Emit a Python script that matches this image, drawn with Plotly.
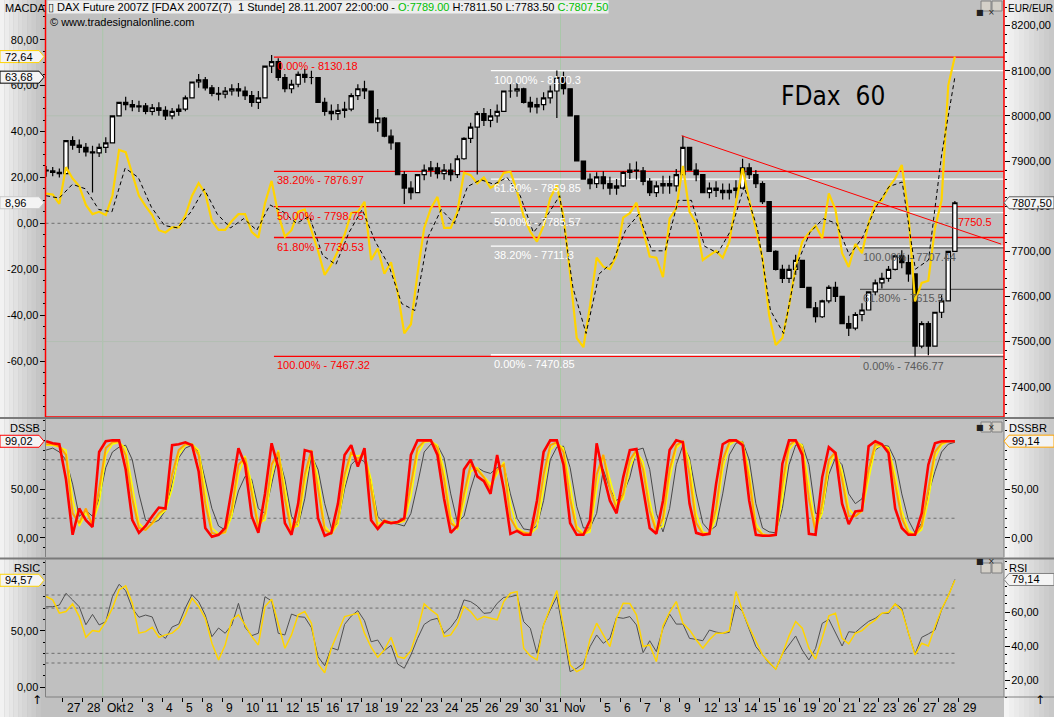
import numpy as np
import plotly.graph_objects as go

W, H = 1054, 717
FONT = 'Liberation Sans, Arial, sans-serif'

# FDAX 60 min at three points per trading day
day_labels = ['27', '28', 'Okt', '2', '3', '4', '5', '8', '9', '10', '11', '12',
              '15', '16', '17', '18', '19', '22', '23', '24', '25', '26', '29',
              '30', '31', 'Nov', '', '5', '6', '7', '8', '9', '12', '13', '14',
              '15', '16', '19', '20', '21', '22', '23', '26', '27', '28', '29']
first_day = -0.85   # afternoon of 26.09.
per_day = 3
first_open = 7880

close = [7878, 7875, 7872, 7945, 7935, 7930, 7920, 7918, 7930, 7940,
         8000, 8030, 8025, 8020, 8022, 8010, 8018, 8012, 8000, 8010,
         8015, 8040, 8075, 8080, 8062, 8050, 8048, 8055, 8060, 8055,
         8045, 8030, 8040, 8110, 8120, 8085, 8060, 8070, 8092, 8085,
         8085, 8030, 8010, 8005, 8012, 8015, 8045, 8060, 8055, 7985,
         7995, 7955, 7940, 7870, 7840, 7830, 7870, 7880, 7885, 7872,
         7880, 7870, 7905, 7950, 7975, 8005, 7990, 8000, 8010, 8055,
         8055, 8060, 8030, 8020, 8025, 8040, 8055, 8085, 8060, 8000,
         7900, 7860, 7850, 7865, 7850, 7840, 7845, 7875, 7880, 7878,
         7855, 7830, 7845, 7850, 7845, 7870, 7930, 7880, 7870, 7830,
         7840, 7835, 7830, 7835, 7840, 7885, 7870, 7850, 7810, 7700,
         7660, 7640, 7660, 7680, 7620, 7575, 7555, 7590, 7620, 7600,
         7540, 7530, 7560, 7570, 7610, 7630, 7640, 7660, 7690, 7675,
         7650, 7490, 7540, 7490, 7565, 7590, 7700, 7807.5]
# height of the hourly bar cluster around each point (index points)
bar_range = [20, 20, 20, 35, 30, 30, 30, 30, 30,
             35, 50, 30, 30, 25, 25, 25, 25, 30, 30, 25, 25,
             35, 35, 30, 30, 25, 30, 25, 25, 30, 30, 35, 40,
             40, 40, 50, 40, 30, 35, 30, 30, 40, 40, 35, 35,
             35, 40, 35, 40, 50, 50, 45, 45, 50, 45, 40, 40,
             35, 35, 35, 35, 40, 50, 50, 45, 40, 40, 40, 40,
             35, 30, 30, 35, 35, 35, 40, 40, 45, 50, 60, 50,
             40, 35, 35, 40, 40, 35, 35, 35, 40, 40, 40, 35,
             40, 40, 50, 45, 40, 40, 35, 35, 35, 35, 35, 40,
             40, 35, 40, 50, 60, 45, 40, 40, 45, 50, 45, 45,
             40, 40, 45, 50, 45, 40, 40, 40, 35, 35, 35, 35,
             40, 60, 70, 60, 60, 50, 50, 60, 30]
spike_high = {23: 8090, 34: 8130.18, 77: 8100.3, 96: 7956, 105: 7905, 137: 7811.5}
spike_low = {0: 7865, 7: 7830, 54: 7805, 65: 7870, 77: 7995, 131: 7466.77, 133: 7470}

macd = [13, 12.5, 8.5, 24.5, 19.5, 16.2, 8, 4, 5, 3.6,
        12, 32, 31, 21, 12, 7.5, 3.6, -3, -4, -1.8,
        -1.8, 3.5, 12, 17.5, 13, 1, -2.9, -2.9, 1, 4,
        4, -3.7, -6.3, 8.7, 18.5, 4, -5.8, -3, 5, 6,
        -3, -12, -22.5, -18, -12, -5, 4.5, 5, 9.4, -16,
        -11, -22, -17, -30, -47.9, -44, -21.8, -2, 6.5, 11.5,
        -2, -2, 5, 22, 21, 17.4, 20, 15.5, 17, 22,
        22.5, 14, 3, -3.7, -8, -1, 11, 16.5, 3, -22,
        -50, -54, -36, -15, -18.9, -20, -14, 2.5, 4.4, 9,
        -3, -14.5, -15, -23.5, 2, 6.5, 25, 5, 0, -16,
        -14, -12, -15, -8, 9, 24, 10, -2.5, -15, -40,
        -53, -50, -36, -19, -8, -4.2, -1, -6.5, 13, 6,
        -13, -19, -9, -13, 0, 8.5, 10, 15.5, 19.5, 25.4,
        4, -34, -26, -25, -2, 10, 60, 72.64]
macd_signal = [12, 11, 17, 15, 6, 5, 24, 20, 7, -1,
               -2, 5, 15, 4, -2, 2, -3, 8, 5, 0,
               3, -14, -18, -4, 6, -8, -18, -35, -38, -6,
               6, 0, 16, 19, 17, 20, 12, -4, 3, 12,
               -28, -48, -22, -17, -3, 4, -12, -12, 10, 10,
               -10, -13, -3, 16, -2, -38, -48, -18, -4, 2,
               0, -14, -6, 7, 16, 18, -20, -16, 30, 63.68]
macd_hist_last = 8.96

dss_red = [99, 97, 96, 60, 3, 30, 18, 11, 88, 99,
           100, 100, 70, 18, 5, 12, 22, 31, 30, 95,
           96, 98, 95, 68, 10, 1, 3, 10, 50, 92,
           75, 22, 5, 45, 97, 72, 15, 3, 35, 90,
           88, 20, 2, 5, 35, 85, 95, 73, 92, 18,
           9, 17, 15, 16, 20, 85, 100, 100, 100, 85,
           40, 5, 12, 70, 80, 63, 58, 45, 85, 50,
           4, 7, 3, 3, 38, 88, 100, 100, 75, 15,
           3, 3, 18, 97, 65, 38, 25, 62, 90, 91,
           50, 10, 4, 38, 90, 100, 98, 35, 5, 3,
           4, 55, 96, 100, 100, 95, 38, 3, 2, 2,
           3, 76, 100, 100, 85, 4, 3, 62, 93, 87,
           35, 14, 27, 28, 94, 99, 96, 87, 30, 10,
           3, 3, 25, 75, 97, 99, 99, 99.02]
dss_orange = [96, 96, 94, 85, 25, 15, 30, 12, 50, 92,
              98, 99, 85, 40, 10, 8, 15, 25, 30, 65,
              90, 96, 96, 85, 35, 5, 3, 6, 30, 75,
              82, 45, 10, 25, 75, 88, 40, 6, 18, 65,
              90, 50, 8, 4, 20, 65, 88, 80, 88, 50,
              10, 18, 15, 16, 18, 55, 92, 99, 100, 92,
              60, 15, 10, 45, 75, 70, 62, 50, 70, 75,
              20, 8, 5, 4, 20, 65, 95, 98, 88, 40,
              8, 3, 10, 65, 85, 50, 30, 45, 80, 90,
              70, 28, 6, 20, 70, 95, 99, 65, 15, 4,
              4, 30, 80, 98, 100, 97, 60, 10, 3, 2,
              3, 55, 95, 100, 92, 40, 6, 35, 80, 88,
              60, 22, 22, 28, 70, 96, 95, 90, 55, 20,
              5, 3, 12, 50, 88, 97, 99, 99.14]
dss_yellow = [95, 95, 93, 90, 40, 12, 25, 15, 35, 85,
              96, 98, 92, 55, 15, 8, 14, 22, 28, 50,
              85, 95, 96, 90, 50, 10, 4, 5, 22, 65,
              84, 55, 15, 18, 62, 90, 52, 10, 12, 55,
              88, 62, 12, 4, 14, 55, 85, 84, 86, 60,
              15, 15, 16, 15, 17, 42, 85, 98, 99, 95,
              70, 22, 8, 35, 68, 72, 63, 55, 65, 78,
              35, 10, 6, 4, 10, 50, 90, 97, 92, 55,
              12, 4, 6, 50, 85, 60, 35, 40, 72, 88,
              78, 38, 8, 12, 60, 92, 99, 78, 25, 6,
              4, 20, 70, 95, 100, 98, 68, 15, 4, 2,
              3, 40, 90, 99, 95, 55, 10, 25, 72, 88,
              68, 30, 22, 27, 60, 92, 95, 92, 65, 28,
              8, 3, 8, 38, 82, 95, 99, 99]
dss_slow = [90, 92, 88, 80, 55, 22, 28, 22, 40, 72,
            88, 93, 95, 80, 45, 18, 15, 18, 28, 55,
            82, 92, 95, 88, 60, 30, 12, 8, 22, 48,
            63, 60, 30, 25, 55, 85, 60, 22, 12, 40,
            85, 70, 35, 10, 15, 50, 75, 82, 78, 58,
            22, 15, 15, 14, 12, 25, 55, 88, 96, 95,
            82, 45, 16, 22, 50, 72, 68, 66, 72, 75,
            45, 20, 9, 8, 12, 38, 80, 93, 94, 72,
            32, 10, 10, 25, 70, 50, 38, 45, 62, 90,
            92, 70, 25, 6, 30, 75, 95, 82, 45, 15,
            7, 12, 45, 85, 97, 99, 80, 35, 10, 6,
            5, 30, 75, 95, 96, 75, 25, 25, 65, 82,
            75, 45, 35, 40, 70, 90, 95, 94, 80, 45,
            18, 5, 15, 45, 68, 88, 96, 98]

rsic = [80.2, 77.3, 65.5, 66.9, 73.7, 62.5, 44.2, 50.1, 49.2, 58.1,
        69.9, 86.1, 89.6, 74.3, 47.8, 49.2, 53.1, 44.2, 46.3, 47.8,
        52.8, 64, 78.7, 71.4, 61, 38.9, 24.2, 37.4, 59.6, 64,
        55.1, 44.8, 37.4, 71.4, 77.8, 55.1, 34.5, 46.3, 64, 66.9,
        56.6, 20.6, 12.9, 34.5, 47.8, 62.5, 64, 65.5, 47.8, 35.4,
        26.5, 33, 44.2, 27.1, 25.6, 32.4, 50.7, 73.7, 68.4, 64,
        44.8, 46.3, 55.1, 71.4, 66.9, 59.6, 62.5, 61, 59.6, 75.8,
        83.2, 84.6, 34.5, 27.7, 24.2, 55.1, 69.9, 85.5, 53.7, 19.7,
        13.8, 16.8, 42.5, 56.6, 46.3, 36, 61, 74.3, 74, 64,
        36, 37.4, 22.7, 54.3, 66.3, 75.8, 56.6, 50.7, 42, 34.5,
        42, 47.8, 47.8, 49.8, 84.6, 66.9, 53.1, 40.4, 28.6, 22.1,
        15.9, 29.5, 45.4, 58.1, 52.2, 34.5, 25, 43.3, 63.1, 65.5,
        43.3, 38.3, 47.8, 50.1, 55.4, 59.3, 65.5, 66.3, 73.7, 67.8,
        47.8, 28.6, 38.9, 36.5, 53.7, 69, 80.8, 94.57]
rsi = [63.1, 63.1, 64.1, 71, 67.1, 63.1, 52.5, 58.6, 52.4, 54.3,
       69, 76.3, 72.5, 62.2, 56.9, 58.2, 57.1, 47.5, 44.5, 51.2,
       52.9, 62.4, 70.2, 66.1, 58.2, 45.5, 50.6, 47.5, 52.4, 65.1,
       51, 46.1, 47.5, 69, 66.5, 47.5, 46.5, 58.8, 57.3, 56.9,
       50.8, 33.7, 28.4, 39, 37.6, 52.7, 57.6, 60.8, 54.9, 42.5,
       43.5, 37.3, 40.4, 29.4, 26.9, 34.7, 44.5, 52.7, 55.3, 56.3,
       47.5, 51, 56.3, 67.1, 66.1, 63.5, 59.2, 59.6, 65.1, 68.6,
       69, 70, 54.3, 50.4, 35.7, 52.4, 61.2, 69, 47.5, 24.9,
       26.9, 29.8, 39.6, 46.5, 41.6, 44.5, 56.9, 56.3, 57.3, 52.4,
       36.1, 43.1, 36.7, 50.4, 58.8, 52.9, 52.9, 44.5, 43.9, 43.1,
       49.4, 48.2, 47.5, 48, 64.1, 60.2, 49.8, 39.6, 34.9, 29.8,
       26.3, 35.3, 40.6, 45.9, 37.6, 31.8, 38.6, 53.3, 55.7, 47.5,
       40, 48.4, 48, 51.4, 54.5, 56.3, 59.2, 59.2, 64.9, 62.2,
       47.5, 35.3, 45.1, 47.1, 49.4, 61.2, 69.4, 79.14]

# fibonacci retracements and trendline drawn on the chart
fib_red = [('0.00%', 8130.18), ('38.20%', 7876.97), ('50.00%', 7798.75),
           ('61.80%', 7730.53), ('100.00%', 7467.32)]
fib_white = [('100.00%', 8100.3), ('61.80%', 7859.85), ('50.00%', 7785.57),
             ('38.20%', 7711.3), ('0.00%', 7470.85)]
fib_grey = [('100.00%', 7707.44), ('61.80%', 7615.5), ('0.00%', 7466.77)]
fib_start = {'red': 10.6, 'white': 21.5, 'grey': 40.05}
trend_x = [31.09, 47.14]
trend_y = [7956, 7716]
trend_label = '7750.5'

# ---------------------------------------------------------------
n = len(close)
x = first_day + np.arange(n) / per_day
x_sig = np.linspace(x[0], x[-1], len(macd_signal))
x_end = x[-1]
opens = [first_open] + close[:-1]
mids = [(o + c) / 2 for o, c in zip(opens, close)]
highs = [max(o, c, m + r / 2) for o, c, m, r in zip(opens, close, mids, bar_range)]
lows = [min(o, c, m - r / 2) for o, c, m, r in zip(opens, close, mids, bar_range)]
for i, v in spike_high.items():
    highs[i] = max(highs[i], v)
for i, v in spike_low.items():
    lows[i] = min(lows[i], v)

xr = [-0.879, 47.286]
x_left, x_right = 45.5, 1004


def px(v):
    return v / W


def py(v):
    return 1 - v / H


main_dom = [py(417), py(0)]
dss_dom = [py(557), py(419)]
rsi_dom = [py(697), py(560)]

fig = go.Figure()

fig.add_trace(go.Candlestick(
    x=x, open=opens, high=highs, low=lows, close=close,
    xaxis='x', yaxis='y', whiskerwidth=0,
    increasing=dict(line=dict(color='black', width=1.2), fillcolor='white'),
    decreasing=dict(line=dict(color='black', width=1.2), fillcolor='black'),
    showlegend=False, hoverinfo='skip'))
fig.add_trace(go.Scatter(x=x, y=macd, xaxis='x', yaxis='y2', mode='lines',
                         line=dict(color='#FFD400', width=2.2), showlegend=False))
fig.add_trace(go.Scatter(x=x_sig, y=macd_signal, xaxis='x', yaxis='y2', mode='lines',
                         line=dict(color='black', width=1, dash='4px,3px'), showlegend=False))

fig.add_trace(go.Scatter(x=x, y=dss_slow, xaxis='x2', yaxis='y3', mode='lines',
                         line=dict(color='#484848', width=1), showlegend=False))
fig.add_trace(go.Scatter(x=x, y=dss_yellow, xaxis='x2', yaxis='y4', mode='lines',
                         line=dict(color='#FFFF00', width=1.5), showlegend=False))
fig.add_trace(go.Scatter(x=x, y=dss_orange, xaxis='x2', yaxis='y4', mode='lines',
                         line=dict(color='#FFA500', width=2), showlegend=False))
fig.add_trace(go.Scatter(x=x, y=dss_red, xaxis='x2', yaxis='y4', mode='lines',
                         line=dict(color='#FF0000', width=2.6), showlegend=False))

fig.add_trace(go.Scatter(x=x, y=rsi, xaxis='x3', yaxis='y5', mode='lines',
                         line=dict(color='#505050', width=1), showlegend=False))
fig.add_trace(go.Scatter(x=x, y=rsic, xaxis='x3', yaxis='y6', mode='lines',
                         line=dict(color='#FFD400', width=1.5), showlegend=False))

tick_font = dict(family=FONT, size=11, color='black')


def fmt(vals):
    return [f'{v:.2f}'.replace('.', ',') for v in vals]


def yaxis(dom, rng, side, vals, minor, anchor, overlay=None):
    ax = dict(range=rng, side=side, anchor=anchor, tickvals=vals, ticktext=fmt(vals),
              ticks='outside', ticklen=5, tickcolor='black', tickwidth=1,
              tickfont=tick_font, showgrid=False, zeroline=False, showline=False,
              automargin=False, ticklabelstandoff=-1,
              minor=dict(dtick=minor, ticks='outside', ticklen=2, tickcolor='black',
                         showgrid=False),
              fixedrange=True)
    if overlay:
        ax['overlaying'] = overlay
    else:
        ax['domain'] = dom
    return ax


xcommon = dict(range=xr, domain=[px(x_left), px(x_right)], showgrid=False,
               zeroline=False, showline=False, fixedrange=True, automargin=False)

layout = dict(
    width=W, height=H, margin=dict(l=0, r=0, t=0, b=0, pad=0),
    paper_bgcolor='#C0C0C0', plot_bgcolor='#C0C0C0',
    showlegend=False, hovermode=False, boxgap=0.08,
    font=dict(family=FONT, size=11, color='black'),
    xaxis=dict(**xcommon, anchor='y', showticklabels=False, ticks='',
               rangeslider=dict(visible=False)),
    xaxis2=dict(**xcommon, anchor='y3', showticklabels=False, ticks=''),
    xaxis3=dict(**xcommon, anchor='y5', showticklabels=False,
                tickvals=list(range(len(day_labels))), ticks='outside',
                ticklen=4, tickcolor='black'),
    yaxis=yaxis(main_dom, [7333, 8256.6], 'right',
                list(range(7400, 8201, 100)), 20, 'x'),
    yaxis2=yaxis(None, [-84.4, 97.3], 'left', list(range(-60, 81, 20)), 5, 'x', 'y'),
    yaxis3=yaxis(dss_dom, [-19.8, 121.9], 'right', [0, 50], 10, 'x2'),
    yaxis4=yaxis(None, [-19.8, 121.9], 'left', [0, 50], 10, 'x2', 'y3'),
    yaxis5=yaxis(rsi_dom, [10, 90.6], 'right', [20, 40, 60], 5, 'x3'),
    yaxis6=yaxis(None, [-8.6, 112.5], 'left', [0, 50], 10, 'x3', 'y5'),
)
fig.update_layout(**layout)

shapes = []
annotations = []

# axis strips (light gradient) left / right
steps = 10
for k in range(steps):
    c_left = int(242 - (242 - 192) * k / (steps - 1))
    c_right = int(244 - (244 - 200) * k / (steps - 1))
    shapes.append(dict(type='rect', xref='paper', yref='paper', layer='below',
                       x0=px(x_left * k / steps), x1=px(x_left * (k + 1) / steps),
                       y0=0, y1=1, line=dict(width=0),
                       fillcolor=f'rgb({c_left},{c_left},{c_left})'))
    w = (W - x_right) / steps
    shapes.append(dict(type='rect', xref='paper', yref='paper', layer='below',
                       x0=px(x_right + w * k), x1=px(x_right + w * (k + 1)),
                       y0=0, y1=1, line=dict(width=0),
                       fillcolor=f'rgb({c_right},{c_right},{c_right})'))

# faint grid: month starts and price levels
for k in [day_labels.index('Okt'), day_labels.index('Nov')]:
    shapes.append(dict(type='line', xref='x', yref='paper', x0=k, x1=k,
                       y0=rsi_dom[0], y1=1, layer='below',
                       line=dict(color='#A9C7A9', width=1)))
for lvl in [7500, 8000]:
    shapes.append(dict(type='line', xref='x', yref='y', x0=xr[0], x1=xr[1],
                       y0=lvl, y1=lvl, layer='below',
                       line=dict(color='#B2BEB2', width=1)))

# level lines
dot = dict(color='#6E6E6E', width=1, dash='dot')
shapes.append(dict(type='line', xref='x', yref='y2', x0=xr[0], x1=x_end,
                   y0=0, y1=0, line=dot, layer='below'))
for lvl in [20, 80]:
    shapes.append(dict(type='line', xref='x2', yref='y4', x0=xr[0], x1=x_end,
                       y0=lvl, y1=lvl, line=dot, layer='below'))
for lvl in [30, 70]:
    shapes.append(dict(type='line', xref='x3', yref='y5', x0=xr[0], x1=x_end,
                       y0=lvl, y1=lvl, line=dot, layer='below'))
    shapes.append(dict(type='line', xref='x3', yref='y6', x0=xr[0], x1=x_end,
                       y0=lvl, y1=lvl, line=dot, layer='below'))

# fibonacci retracements
for levels, col, txtcol, key in [(fib_red, '#FF0000', '#FF0000', 'red'),
                                 (fib_white, '#FFFFFF', '#FFFFFF', 'white'),
                                 (fib_grey, '#5A5A5A', '#5A5A5A', 'grey')]:
    x0 = fib_start[key]
    for pct, val in levels:
        shapes.append(dict(type='line', xref='x', yref='y', x0=x0, x1=xr[1],
                           y0=val, y1=val, layer='below',
                           line=dict(color=col, width=1.3)))
        annotations.append(dict(xref='x', yref='y', x=x0 + 0.05, y=val,
                                xanchor='left', yanchor='top', yshift=-1,
                                text=f'{pct} - {val}', showarrow=False,
                                font=dict(family=FONT, size=11, color=txtcol)))

shapes.append(dict(type='line', xref='x', yref='y', x0=trend_x[0], x1=trend_x[1],
                   y0=trend_y[0], y1=trend_y[1], line=dict(color='#FF0000', width=1)))
annotations.append(dict(xref='x', yref='y', x=x_end + 0.05, y=7765, xanchor='left',
                        yanchor='middle', text=trend_label, showarrow=False,
                        font=dict(family=FONT, size=11, color='#FF0000')))

# panel frames
red = dict(color='#FF0000', width=1.5)
grey = dict(color='#808080', width=1)
shapes += [
    dict(type='line', xref='paper', yref='paper', x0=px(x_left), x1=px(x_left),
         y0=main_dom[0], y1=1, line=red),
    dict(type='line', xref='paper', yref='paper', x0=px(x_right), x1=px(x_right),
         y0=main_dom[0], y1=1, line=red),
    dict(type='line', xref='paper', yref='paper', x0=px(x_left), x1=px(x_right),
         y0=main_dom[0], y1=main_dom[0], line=red),
]
for dom in [dss_dom, rsi_dom]:
    shapes += [
        dict(type='line', xref='paper', yref='paper', x0=px(x_left), x1=px(x_left),
             y0=dom[0], y1=dom[1], line=grey),
        dict(type='line', xref='paper', yref='paper', x0=px(x_right), x1=px(x_right),
             y0=dom[0], y1=dom[1], line=grey),
    ]
for yy in [418, 558.5]:
    shapes.append(dict(type='line', xref='paper', yref='paper', x0=0, x1=1,
                       y0=py(yy), y1=py(yy), line=dict(color='#7A7A7A', width=2)))
shapes.append(dict(type='line', xref='paper', yref='paper', x0=px(x_left), x1=1,
                   y0=rsi_dom[0], y1=rsi_dom[0], line=grey))

# small window buttons per panel
for top in [1, 422, 563]:
    for bx, glyph in [(981, '■'), (992, '×')]:
        shapes.append(dict(type='rect', xref='paper', yref='paper',
                           x0=px(bx), x1=px(bx + 10), y0=py(top + 10), y1=py(top),
                           fillcolor='#D4D0C8', line=dict(color='#808080', width=1)))
        annotations.append(dict(xref='paper', yref='paper', x=px(bx + 5), y=py(top + 5),
                                text=glyph, showarrow=False,
                                font=dict(family='DejaVu Sans', size=8, color='#202020')))

# value flags at the axes
def flag(yref, val, side, border, text):
    if side == 'left':
        path = 'M0,-6 L39,-6 L44,0 L39,6 L0,6 Z'
        xa, tx, anchor = 0, px(3), 'left'
    else:
        path = 'M0,0 L5,-6 L50,-6 L50,6 L5,6 Z'
        xa, tx, anchor = px(x_right), px(1010), 'left'
    shapes.append(dict(type='path', xref='paper', yref=yref, xsizemode='pixel',
                       ysizemode='pixel', xanchor=xa, yanchor=val, path=path,
                       fillcolor='#F4F4F4', line=dict(color=border, width=1)))
    annotations.append(dict(xref='paper', yref=yref, x=tx, y=val, xanchor=anchor,
                            yanchor='middle', text=text, showarrow=False,
                            font=dict(family=FONT, size=11, color='black')))


flag('y2', macd[-1], 'left', '#FFD400', fmt([macd[-1]])[0])
flag('y2', macd_signal[-1], 'left', '#000000', fmt([macd_signal[-1]])[0])
flag('y2', macd_hist_last, 'left', '#C8C8C8', fmt([macd_hist_last])[0])
flag('y', close[-1], 'right', '#606060', fmt([close[-1]])[0])
flag('y4', dss_red[-1], 'left', '#FF0000', fmt([dss_red[-1]])[0])
flag('y3', dss_orange[-1], 'right', '#FFA500', fmt([dss_orange[-1]])[0])
flag('y6', rsic[-1], 'left', '#FFD400', fmt([rsic[-1]])[0])
flag('y5', rsi[-1], 'right', '#808080', fmt([rsi[-1]])[0])

# panel titles
for text, xx, yy, anchor, size in [('MACDA', 3, 8, 'left', 11), ('EUR/EUR', 1006, 8, 'left', 10),
                                   ('DSSB', 42, 428, 'right', 11), ('DSSBR', 1007, 428, 'left', 11),
                                   ('RSIC', 42, 568, 'right', 11), ('RSI', 1007, 568, 'left', 11)]:
    annotations.append(dict(xref='paper', yref='paper', x=px(xx), y=py(yy),
                            xanchor=anchor, yanchor='middle', text=text,
                            showarrow=False, font=dict(family=FONT, size=size)))

# header, copyright, chart name
green = '#00C000'
header = ('▯ DAX Future 2007Z [FDAX 2007Z(7)\u00a0\u00a01 Stunde] 28.11.2007 22:00:00 - '
          f'<span style="color:{green}">O:7789.00</span> H:7811.50 L:7783.50 '
          f'<span style="color:{green}">C:7807.50</span>')
annotations.append(dict(xref='paper', yref='paper', x=px(46.5), y=1, xanchor='left',
                        yanchor='top', text=header, showarrow=False, bgcolor='#EEEEEE',
                        borderpad=0, font=dict(family=FONT, size=11, color='black')))
annotations.append(dict(xref='paper', yref='paper', x=px(48), y=py(22), xanchor='left',
                        yanchor='middle', text='© www.tradesignalonline.com',
                        showarrow=False, font=dict(family=FONT, size=11, color='black')))
annotations.append(dict(xref='paper', yref='paper', x=px(779), y=py(96), xanchor='left',
                        yanchor='middle', text='FDax\u00a0 60', showarrow=False,
                        font=dict(family='Liberation Sans Narrow, DejaVu Sans Condensed, sans-serif',
                                  size=26, color='black')))

# date labels sit right of their ticks
for k, lab in enumerate(day_labels):
    if lab:
        annotations.append(dict(xref='x3', yref='paper', x=k + 0.1, y=py(708),
                                xanchor='left', yanchor='middle', text=lab,
                                showarrow=False, font=dict(family=FONT, size=12)))
for xx in [30, 1047]:
    annotations.append(dict(xref='paper', yref='paper', x=px(xx), y=py(709),
                            text='↑', showarrow=False,
                            font=dict(family='DejaVu Sans', size=12, color='black')))

fig.update_layout(shapes=shapes, annotations=annotations)
# the page body keeps its default 8px margin otherwise
fig.write_html('out.html', config={'displayModeBar': False},
               post_script="document.body.style.margin='0';")
